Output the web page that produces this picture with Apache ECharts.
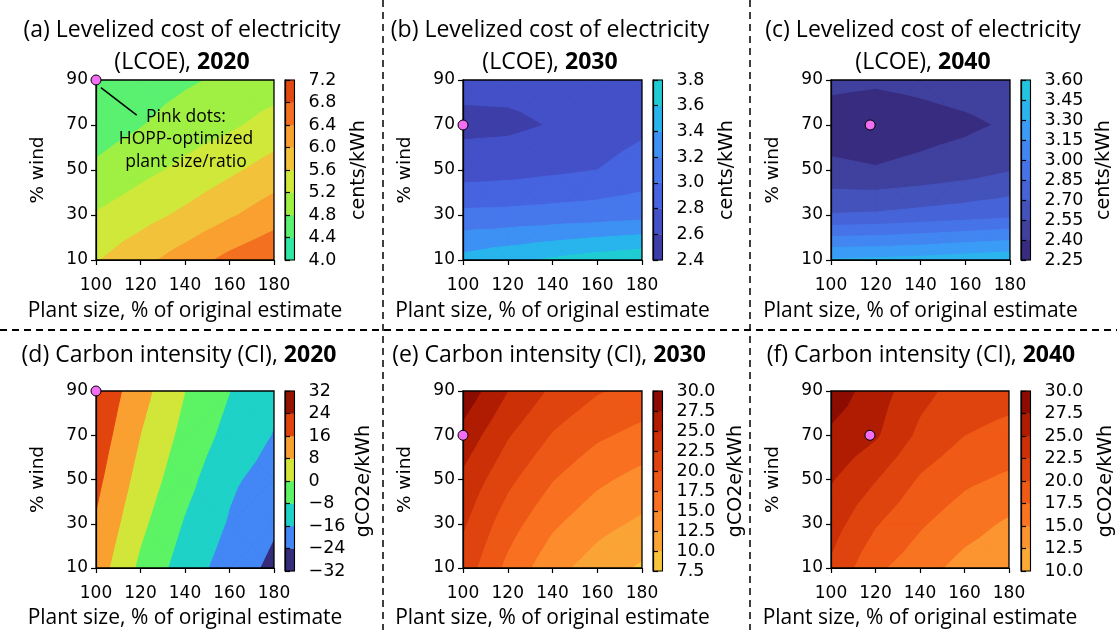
<!DOCTYPE html>
<html><head><meta charset="utf-8">
<script src="https://cdn.jsdelivr.net/npm/echarts@6/dist/echarts.min.js"></script>
<style>html,body{margin:0;padding:0;background:#fff}#c{width:1117px;height:630px}</style>
</head><body><div id="c"></div>
<script>
// ---------------- DATA ----------------
const plantSize = [100, 120, 140, 160, 180];   // x grid (% of original estimate)
const windPct   = [10, 30, 50, 70, 90];        // y grid (% wind)
const xTicks = [100, 120, 140, 160, 180];
const yTicks = [10, 30, 50, 70, 90];

// rows: wind 10 -> 90 ; columns: plant size 100 -> 180
const lcoe2020 = [
  [5.57, 5.88, 6.19, 6.51, 6.75],
  [5.23, 5.44, 5.68, 5.95, 6.22],
  [4.87, 5.09, 5.29, 5.52, 5.77],
  [4.60, 4.78, 4.99, 5.13, 5.35],
  [4.45, 4.60, 4.74, 4.88, 5.00]
];
const lcoe2030 = [
  [3.47, 3.55, 3.63, 3.70, 3.75],
  [3.05, 3.06, 3.08, 3.10, 3.13],
  [2.70, 2.72, 2.76, 2.80, 2.88],
  [2.55, 2.56, 2.61, 2.70, 2.76],
  [2.66, 2.66, 2.68, 2.72, 2.75]
];
const lcoe2040 = [
  [3.32, 3.33, 3.35, 3.38, 3.41],
  [2.71, 2.72, 2.75, 2.78, 2.81],
  [2.43, 2.41, 2.44, 2.48, 2.54],
  [2.33, 2.31, 2.34, 2.37, 2.42],
  [2.435, 2.42, 2.44, 2.47, 2.50]
];
const ci2020 = [
  [12.1, -1.75, -12.0, -19.7, -26.0],
  [15.2, 1.76, -8.8, -16.8, -23.0],
  [18.0, 5.0, -5.4, -14.6, -19.5],
  [20.6, 7.9, -2.5, -10.6, -16.4],
  [23.0, 10.8, 0.0, -7.9, -14.6]
];
const ci2030 = [
  [21.4, 16.8, 13.3, 11.3, 9.6],
  [22.8, 18.6, 15.4, 13.3, 12.0],
  [24.4, 20.6, 17.6, 15.5, 14.1],
  [26.6, 22.7, 19.8, 17.9, 16.7],
  [29.2, 25.0, 22.0, 20.2, 19.2]
];
const ci2040 = [
  [22.0, 18.0, 16.0, 14.1, 13.0],
  [23.6, 20.2, 17.8, 16.0, 14.6],
  [25.2, 22.6, 19.7, 18.0, 17.0],
  [27.0, 25.3, 21.9, 20.0, 19.3],
  [29.0, 26.2, 23.3, 21.3, 20.8]
];

// contour levels (= colorbar tick labels)
const lcoe2020Levels = [4.0, 4.4, 4.8, 5.2, 5.6, 6.0, 6.4, 6.8, 7.2];
const lcoe2030Levels = [2.4, 2.6, 2.8, 3.0, 3.2, 3.4, 3.6, 3.8];
const lcoe2040Levels = [2.25, 2.40, 2.55, 2.70, 2.85, 3.00, 3.15, 3.30, 3.45, 3.60];
const ci2020Levels = [-32, -24, -16, -8, 0, 8, 16, 24, 32];
const ci2030Levels = [7.5, 10.0, 12.5, 15.0, 17.5, 20.0, 22.5, 25.0, 27.5, 30.0];
const ci2040Levels = [10.0, 12.5, 15.0, 17.5, 20.0, 22.5, 25.0, 27.5, 30.0];

// HOPP-optimized points [plant size, % wind]
const opt2020 = [100, 90];
const opt2030 = [100, 70];
const opt2040 = [117.5, 70];

// ---------------- STYLE ----------------
const lcoe2020Colors = ['#2ee8a4','#5af070','#a0f044','#d0e83a','#f2c23a','#f9a030','#f27020','#e04a10'];
const lcoe2030Colors = ['#3d3ea8','#4450c8','#4664e0','#4678ec','#3d90f4','#28b4ec','#20ccd4'];
const lcoe2040Colors = ['#382c80','#40409e','#4452bc','#4664d8','#4674e8','#4286f2','#3a9cf6','#2cb4ee','#22c4e0'];
const ci2020Colors = ['#352c7a','#4287f5','#1ed2c8','#5cf464','#d2e63a','#f9a030','#e2440e','#941302'];
const ci2030Colors = ['#f8c43a','#fba436','#fc8c2c','#f87020','#ee5816','#e0440e','#cc3006','#b01c02','#8c0c02'];
const ci2040Colors = ['#fbab35','#fc9430','#f87420','#ef5a16','#e0440e','#cc3006','#b01c02','#8c0c02'];

const TICKF = 'DejaVu Sans';
const TITLEF = 'Open Sans';
const TITLESIZE = 23;
const arrowAnno = {from: [118.3, 74.4], to: [102.2, 86.6]};

const panels = [
  {z: lcoe2020, levels: lcoe2020Levels, colors: lcoe2020Colors, opt: opt2020, dec: 1, unit: 'cents/kWh',
   plot: {left: 96, top: 80, width: 178, height: 180}, cb: {left: 285, top: 80, width: 9.5, height: 180}, cbGap: 55,
   t1: '(a) Levelized cost of electricity', t2: '(LCOE), {b|2020}', tx: 182},
  {z: lcoe2030, levels: lcoe2030Levels, colors: lcoe2030Colors, opt: opt2030, dec: 1, unit: 'cents/kWh',
   plot: {left: 463, top: 80, width: 179, height: 180}, cb: {left: 653, top: 80, width: 9.5, height: 180}, cbGap: 55,
   t1: '(b) Levelized cost of electricity', t2: '(LCOE), {b|2030}', tx: 550},
  {z: lcoe2040, levels: lcoe2040Levels, colors: lcoe2040Colors, opt: opt2040, dec: 2, unit: 'cents/kWh',
   plot: {left: 831, top: 80, width: 179, height: 180}, cb: {left: 1021, top: 80, width: 9.5, height: 180}, cbGap: 64,
   t1: '(c) Levelized cost of electricity', t2: '(LCOE), {b|2040}', tx: 923},
  {z: ci2020, levels: ci2020Levels, colors: ci2020Colors, opt: opt2020, dec: 0, unit: 'gCO2e/kWh',
   plot: {left: 96, top: 391, width: 178, height: 180}, cb: {left: 285, top: 391, width: 9.5, height: 180}, cbGap: 60,
   t1: '(d) Carbon intensity (CI), {b|2020}', t2: null, tx: 179},
  {z: ci2030, levels: ci2030Levels, colors: ci2030Colors, opt: opt2030, dec: 1, unit: 'gCO2e/kWh',
   plot: {left: 463, top: 391, width: 179, height: 180}, cb: {left: 653, top: 391, width: 9.5, height: 180}, cbGap: 64,
   t1: '(e) Carbon intensity (CI), {b|2030}', t2: null, tx: 549},
  {z: ci2040, levels: ci2040Levels, colors: ci2040Colors, opt: opt2040, dec: 1, unit: 'gCO2e/kWh',
   plot: {left: 831, top: 391, width: 178, height: 180}, cb: {left: 1021, top: 391, width: 9.5, height: 180}, cbGap: 66,
   t1: '(f) Carbon intensity (CI), {b|2040}', t2: null, tx: 921}
];

// ---------------- CONTOUR HELPERS ----------------
function clip(poly, level) {
  // keep the part of a linear-field polygon where value >= level
  const out = [];
  const n = poly.length;
  for (let a = 0; a < n; a++) {
    const p = poly[a], q = poly[(a + 1) % n];
    const pin = p[2] >= level, qin = q[2] >= level;
    if (pin) out.push(p);
    if (pin !== qin) {
      const t = (level - p[2]) / (q[2] - p[2]);
      out.push([p[0] + t * (q[0] - p[0]), p[1] + t * (q[1] - p[1]), level]);
    }
  }
  return out;
}
function contourRenderer(z, levels, colors) {
  return function (params, api) {
    const tris = [];
    for (let j = 0; j < windPct.length - 1; j++) {
      for (let i = 0; i < plantSize.length - 1; i++) {
        const x0 = plantSize[i], x1 = plantSize[i + 1], y0 = windPct[j], y1 = windPct[j + 1];
        const P = [[x0, y0, z[j][i]], [x1, y0, z[j][i + 1]], [x1, y1, z[j + 1][i + 1]], [x0, y1, z[j + 1][i]]];
        const C = [(x0 + x1) / 2, (y0 + y1) / 2, (P[0][2] + P[1][2] + P[2][2] + P[3][2]) / 4];
        for (let t = 0; t < 4; t++) tris.push([P[t], P[(t + 1) % 4], C]);
      }
    }
    // base band: one rectangle over the whole data extent (no seams)
    const a = api.coord([plantSize[0], windPct[windPct.length - 1]]);
    const b = api.coord([plantSize[plantSize.length - 1], windPct[0]]);
    const children = [{type: 'rect', shape: {x: a[0] - 1, y: a[1] - 1, width: b[0] - a[0] + 2, height: b[1] - a[1] + 2},
      style: {fill: colors[0]}}];
    for (let k = 1; k < colors.length; k++) {
      tris.forEach(tri => {
        const poly = clip(tri, levels[k]);
        if (poly.length < 3) return;
        children.push({
          type: 'polygon',
          shape: {points: poly.map(p => api.coord([p[0], p[1]]))},
          style: {fill: colors[k], stroke: colors[k], lineWidth: 1, lineJoin: 'round'}
        });
      });
    }
    return {type: 'group', children};
  };
}

function fmt(v, dec) {
  const s = Math.abs(v).toFixed(dec);
  return v < 0 ? '\u2212' + s : s;
}

// ---------------- OPTION ----------------
const grid = [], xAxis = [], yAxis = [], series = [], graphic = [];
const axisLineStyle = {color: '#000', width: 1.2};
panels.forEach((p, k) => {
  grid.push(Object.assign({show: true, z: 10, borderColor: '#000', borderWidth: 1.3, backgroundColor: 'rgba(0,0,0,0)'}, p.plot));
  xAxis.push({
    gridIndex: k, type: 'value', min: 100, max: 180, z: 11,
    axisLine: {show: true, onZero: false, lineStyle: axisLineStyle},
    axisTick: {show: true, length: 5, lineStyle: axisLineStyle, customValues: xTicks},
    axisLabel: {customValues: xTicks, fontFamily: TICKF, fontSize: 17, color: '#000', margin: 17},
    splitLine: {show: false},
    name: 'Plant size, % of original estimate', nameLocation: 'middle', nameGap: k < 3 ? 41 : 40,
    nameTextStyle: {fontFamily: TITLEF, fontSize: 21, color: '#000'}
  });
  yAxis.push({
    gridIndex: k, type: 'value', min: 10, max: 90, z: 11,
    axisLine: {show: true, onZero: false, lineStyle: axisLineStyle},
    axisTick: {show: true, length: 5, lineStyle: axisLineStyle, customValues: yTicks},
    axisLabel: {customValues: yTicks, fontFamily: TICKF, fontSize: 17, color: '#000', margin: 8},
    splitLine: {show: false},
    name: '% wind', nameLocation: 'middle', nameGap: 48, nameRotate: 90,
    nameTextStyle: {fontFamily: TICKF, fontSize: 18.5, color: '#000'}
  });
  series.push({
    type: 'custom', coordinateSystem: 'cartesian2d', xAxisIndex: k, yAxisIndex: k, z: 1,
    silent: true, animation: false, clip: true,
    renderItem: contourRenderer(p.z, p.levels, p.colors), data: [[140, 50]]
  });
  const sc = {
    type: 'scatter', xAxisIndex: k, yAxisIndex: k, z: 20, silent: true, animation: false,
    symbolSize: 10, itemStyle: {color: '#f26ef2', borderColor: '#000', borderWidth: 1, opacity: 1},
    data: [p.opt]
  };
  if (k === 0) {
    sc.markLine = {
      silent: true, animation: false, symbol: ['none', 'arrow'], symbolSize: [0, 13],
      lineStyle: {color: '#000', width: 1.5, type: 'solid'}, label: {show: false},
      data: [[{coord: arrowAnno.from}, {coord: arrowAnno.to}]]
    };
  }
  series.push(sc);
});
// colorbars
panels.forEach((p, k) => {
  const gi = 6 + k;
  grid.push(Object.assign({show: true, z: 10, borderColor: '#000', borderWidth: 1.1, backgroundColor: 'rgba(0,0,0,0)'}, p.cb));
  xAxis.push({gridIndex: gi, type: 'value', min: 0, max: 1, show: false});
  const lv = p.levels;
  yAxis.push({
    gridIndex: gi, type: 'value', min: lv[0], max: lv[lv.length - 1], position: 'right', z: 11,
    axisLine: {show: true, lineStyle: axisLineStyle},
    axisTick: {show: true, length: 5, lineStyle: axisLineStyle, customValues: lv},
    axisLabel: {customValues: lv, fontFamily: TICKF, fontSize: 17.5, color: '#000', margin: 14,
      formatter: v => fmt(v, p.dec)},
    splitLine: {show: false},
    name: p.unit, nameLocation: 'middle', nameGap: p.cbGap, nameRotate: 90,
    nameTextStyle: {fontFamily: TICKF, fontSize: 19, color: '#000'}
  });
  series.push({
    type: 'custom', coordinateSystem: 'cartesian2d', xAxisIndex: gi, yAxisIndex: gi, z: 1,
    silent: true, animation: false,
    data: p.colors.map((c, b) => [0.5, (lv[b] + lv[b + 1]) / 2, lv[b], lv[b + 1], b]),
    renderItem: function (params, api) {
      const lo = api.value(2), hi = api.value(3), b = api.value(4);
      const a = api.coord([0, hi]), c = api.coord([1, lo]);
      return {type: 'rect', shape: {x: a[0], y: a[1], width: c[0] - a[0], height: c[1] - a[1]},
        style: {fill: p.colors[b], stroke: p.colors[b], lineWidth: 0.5}};
    }
  });
});

// titles
const richB = {b: {fontFamily: TITLEF, fontSize: TITLESIZE, fontWeight: 'bold', fill: '#000'}};
panels.forEach((p, k) => {
  const top = k < 3;
  graphic.push({type: 'text', x: p.tx, y: top ? 30 : 355, z: 50,
    style: {text: p.t1, fontFamily: TITLEF, fontSize: TITLESIZE, fill: '#000', align: 'center', verticalAlign: 'middle', rich: richB}});
  if (p.t2) graphic.push({type: 'text', x: p.tx, y: 62, z: 50,
    style: {text: p.t2, fontFamily: TITLEF, fontSize: TITLESIZE, fill: '#000', align: 'center', verticalAlign: 'middle', rich: richB}});
});
// annotation text
['Pink dots:', 'HOPP-optimized', 'plant size/ratio'].forEach((s, i) => {
  graphic.push({type: 'text', x: 186, y: 117 + i * 22.5, z: 50,
    style: {text: s, fontFamily: TITLEF, fontSize: 17.5, fill: '#000', align: 'center', verticalAlign: 'middle'}});
});
// dashed separators
graphic.push({type: 'line', z: 60, shape: {x1: 0, y1: 330, x2: 1117, y2: 330},
  style: {stroke: '#000', lineWidth: 2, lineDash: [7, 5]}});
graphic.push({type: 'line', z: 60, shape: {x1: 383, y1: 0, x2: 383, y2: 630},
  style: {stroke: '#000', lineWidth: 1.5, lineDash: [7, 5]}});
graphic.push({type: 'line', z: 60, shape: {x1: 750, y1: 0, x2: 750, y2: 630},
  style: {stroke: '#000', lineWidth: 1.5, lineDash: [7, 5]}});

const chart = echarts.init(document.getElementById('c'), null, {renderer: 'canvas'});
chart.setOption({backgroundColor: '#fff', animation: false, grid, xAxis, yAxis, series, graphic});
</script>
</body></html>
